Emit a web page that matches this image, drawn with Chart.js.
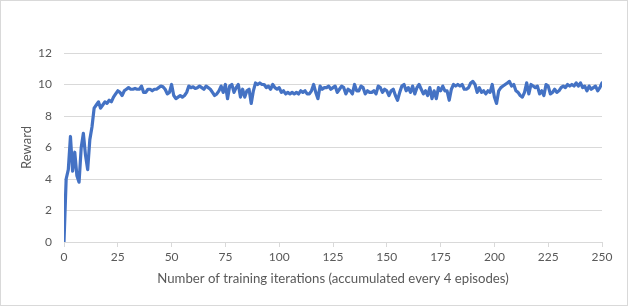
<!DOCTYPE html>
<html>
<head>
<meta charset="utf-8">
<script src="https://cdn.jsdelivr.net/npm/chart.js@4/dist/chart.umd.min.js"></script>
<style>
  html, body { margin: 0; padding: 0; background: #fff; }
  #wrap { width: 628px; height: 306px; position: relative; }
</style>
</head>
<body>
<div id="wrap"><canvas id="c" width="628" height="306"></canvas></div>
<script>
// Reward per training iteration (iteration = index, 0..250)
const rewards = [
  0.0, 4.0, 4.6, 6.7, 4.5, 5.7, 4.2, 3.8, 6.0, 6.9,
  5.5, 4.6, 6.5, 7.3, 8.5, 8.7, 8.9, 8.5, 8.7, 8.9,
  8.8, 9.0, 8.9, 9.2, 9.4, 9.6, 9.5, 9.3, 9.6, 9.7,
  9.8, 9.7, 9.7, 9.75, 9.7, 9.7, 9.9, 9.5, 9.5, 9.7,
  9.7, 9.6, 9.7, 9.7, 9.8, 9.9, 9.85, 9.7, 9.4, 9.5,
  10.0, 9.3, 9.1, 9.2, 9.3, 9.2, 9.3, 9.5, 9.9, 9.8,
  9.85, 9.75, 9.8, 9.9, 9.8, 9.7, 9.9, 9.8, 9.7, 9.5,
  9.3, 9.4, 9.6, 9.9, 9.5, 10.0, 9.1, 9.9, 10.0, 9.5,
  9.8, 10.0, 9.2, 9.7, 9.2, 9.6, 9.7, 8.8, 9.6, 10.1,
  10.0, 10.1, 10.0, 10.0, 9.8, 9.9, 9.7, 10.0, 9.8, 9.7,
  9.8, 9.5, 9.6, 9.4, 9.5, 9.4, 9.5, 9.4, 9.5, 9.4,
  9.6, 9.5, 9.6, 9.4, 9.4, 9.6, 10.0, 9.5, 9.1, 9.9,
  9.7, 9.8, 9.8, 9.9, 9.7, 9.8, 9.9, 9.5, 9.7, 9.9,
  9.8, 9.4, 9.7, 9.6, 9.4, 10.0, 9.6, 9.6, 9.9, 9.8,
  9.4, 9.6, 9.5, 9.5, 9.6, 9.4, 9.9, 9.8, 9.5, 9.7,
  9.6, 9.3, 9.6, 9.7, 9.3, 9.0, 9.5, 9.9, 10.0, 9.6,
  9.8, 9.5, 9.9, 9.4, 9.8, 10.0, 9.7, 9.4, 9.6, 9.3,
  9.8, 9.1, 9.6, 9.1, 9.8, 9.6, 9.9, 9.6, 9.6, 9.0,
  9.7, 10.0, 9.9, 10.0, 9.9, 10.0, 9.7, 9.7, 9.8, 10.1,
  10.2, 10.0, 9.5, 9.8, 9.5, 9.6, 9.4, 9.6, 9.5, 10.0,
  9.2, 8.8, 9.6, 9.8, 9.9, 10.0, 10.1, 10.2, 9.9, 10.0,
  9.6, 9.5, 9.3, 9.2, 9.5, 10.1, 9.4, 10.0, 9.9, 9.8,
  9.9, 9.4, 9.6, 9.3, 10.0, 9.9, 9.4, 9.5, 9.7, 9.5,
  9.6, 9.8, 9.9, 9.8, 10.0, 9.9, 10.0, 9.9, 10.1, 9.9,
  10.1, 9.8, 9.9, 9.6, 9.9, 9.7, 9.8, 9.9, 9.6, 9.8,
  10.1
];
const xTitle = "Number of training iterations (accumulated every 4 episodes)";
const yTitle = "Reward";
const xMin = 0, xMax = 250, xStep = 25;
const yMin = 0, yMax = 12, yStep = 2;

const textColor = '#595959';
const gridColor = '#d9d9d9';
const fontFamily = 'Lato, "Liberation Sans", sans-serif';

const points = rewards.map((v, i) => ({ x: i, y: v }));

const framePlugin = {
  id: 'frame',
  beforeDraw(chart) {
    const ctx = chart.ctx;
    ctx.save();
    ctx.fillStyle = '#ffffff';
    ctx.fillRect(0, 0, chart.width, chart.height);
    ctx.restore();
  },
  afterDraw(chart) {
    const ctx = chart.ctx;
    ctx.save();
    ctx.strokeStyle = gridColor;
    ctx.lineWidth = 1;
    ctx.strokeRect(0.5, 0.5, chart.width - 1, chart.height - 1);
    ctx.restore();
  }
};

new Chart(document.getElementById('c'), {
  type: 'line',
  data: {
    datasets: [{
      data: points,
      borderColor: '#4472C4',
      borderWidth: 3.2,
      pointRadius: 0,
      tension: 0,
      fill: false,
      borderJoinStyle: 'round',
      borderCapStyle: 'round'
    }]
  },
  plugins: [framePlugin],
  options: {
    responsive: false,
    animation: false,
    devicePixelRatio: 1,
    layout: { padding: { top: 53, right: 26, left: 19, bottom: 0 } },
    plugins: { legend: { display: false }, tooltip: { enabled: false } },
    scales: {
      x: {
        type: 'linear',
        min: xMin, max: xMax,
        afterFit(scale) { scale.height = 64; },
        grid: { drawOnChartArea: false, drawTicks: true, tickLength: 5, color: gridColor },
        border: { display: true, color: gridColor, width: 1 },
        ticks: {
          stepSize: xStep, color: textColor, padding: 3,
          font: { family: fontFamily, size: 12 },
          maxRotation: 0, autoSkip: false
        },
        title: {
          display: true, text: xTitle, color: textColor,
          font: { family: fontFamily, size: 13.2 },
          padding: { top: 0, bottom: 19 }
        }
      },
      y: {
        min: yMin, max: yMax,
        afterFit(scale) { scale.width = 45; },
        grid: { color: gridColor, drawTicks: false },
        border: { display: false },
        ticks: {
          stepSize: yStep, color: textColor, padding: 12,
          font: { family: fontFamily, size: 12 }
        },
        title: {
          display: true, text: yTitle, color: textColor,
          font: { family: fontFamily, size: 13 },
          padding: { top: 0, bottom: 0 }
        }
      }
    }
  }
});
</script>
</body>
</html>
